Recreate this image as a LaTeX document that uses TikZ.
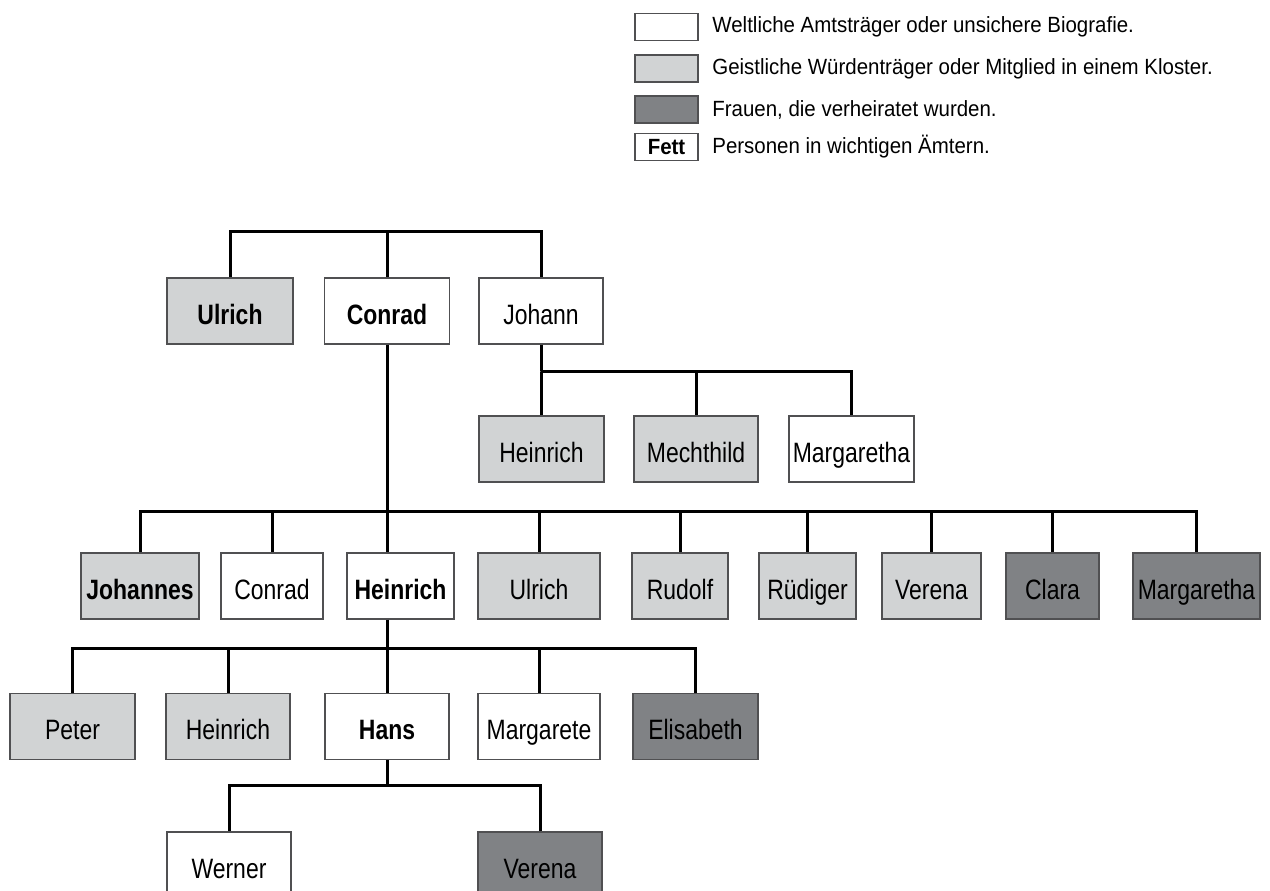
\documentclass[tikz,border=0pt]{standalone}
\usepackage{fontspec}
\setmainfont{Liberation Sans}[FakeStretch=0.82]
\newfontfamily\legendfont{Liberation Sans}[FakeStretch=0.93]
\definecolor{cleric}{RGB}{209,211,212}
\definecolor{wifegray}{RGB}{128,130,133}
\definecolor{boxline}{RGB}{80,80,82}
\begin{document}
\begin{tikzpicture}[x=0.5pt,y=-0.5pt,
  person/.style={draw=boxline, line width=0.7pt, fill=white, minimum height=33pt, inner sep=0pt,
    text height=13pt, text depth=0pt, font=\fontsize{14}{16}\selectfont},
  monk/.style={person, fill=cleric},
  wife/.style={person, fill=wifegray},
  vip/.style={font=\fontsize{14}{16}\selectfont\bfseries},
  key/.style={draw=boxline, line width=0.7pt, minimum width=31.5pt, minimum height=13.5pt, inner sep=0pt},
  keytext/.style={anchor=west, inner sep=0pt, font=\legendfont\fontsize{11}{13}\selectfont},
  line/.style={line width=1.5pt, line join=miter}]

\useasboundingbox (0,0) rectangle (1270,890);
\clip (0,0) rectangle (1270,890);

% legend
\node[key, fill=white]    (k1) at (666.5,27)  {};
\node[key, fill=cleric]   (k2) at (666.5,68.5) {};
\node[key, fill=wifegray] (k3) at (666.5,109.5) {};
\node[key, fill=white, font=\legendfont\fontsize{11}{13}\selectfont\bfseries] (k4) at (666.5,147) {Fett};
\node[keytext] (t1) at (712,27)  {Weltliche Amtsträger oder unsichere Biografie.};
\node[keytext] (t2) at (712,68.5) {Geistliche Würdenträger oder Mitglied in einem Kloster.};
\node[keytext] (t3) at (712,109.5) {Frauen, die verheiratet wurden.};
\node[keytext] (t4) at (712,147) {Personen in wichtigen Ämtern.};

% first generation
\node[monk, vip, minimum width=63pt]     (ulrich) at (230,311) {Ulrich};
\node[person, vip, minimum width=62.5pt] (conrad) at (387,311) {Conrad};
\node[person, minimum width=62pt]        (johann) at (541,311) {Johann};

% children of Johann
\node[monk, minimum width=62.5pt]   (heinrichJ)   at (541.5,449) {Heinrich};
\node[monk, minimum width=62pt]     (mechthild)   at (696,449)   {Mechthild};
\node[person, minimum width=62.5pt] (margarethaJ) at (851.5,449) {Margaretha};

% children of Conrad
\node[monk, vip, minimum width=59pt]     (johannes)    at (140,586)    {Johannes};
\node[person, minimum width=51pt]        (conradC)     at (272,586)    {Conrad};
\node[person, vip, minimum width=53.5pt] (heinrichC)   at (400.5,586)  {Heinrich};
\node[monk, minimum width=61pt]          (ulrichC)     at (539,586)    {Ulrich};
\node[monk, minimum width=48pt]          (rudolf)      at (680,586)    {Rudolf};
\node[monk, minimum width=48.5pt]        (ruediger)    at (807.5,586)  {Rüdiger};
\node[monk, minimum width=49.5pt]        (verena)      at (931.5,586)  {Verena};
\node[wife, minimum width=46.5pt]        (clara)       at (1052.5,586) {Clara};
\node[wife, minimum width=63.5pt]        (margarethaC) at (1196.5,586) {Margaretha};

% children of Heinrich
\node[monk, minimum width=62.5pt]      (peter)     at (72.5,726.5)  {Peter};
\node[monk, minimum width=62pt]        (heinrichH) at (228,726.5)   {Heinrich};
\node[person, vip, minimum width=62pt] (hans)      at (387,726.5)   {Hans};
\node[person, minimum width=61pt]      (margarete) at (539,726.5)   {Margarete};
\node[wife, minimum width=62.5pt]      (elisabeth) at (695.5,726.5) {Elisabeth};

% children of Hans
\node[person, minimum width=62pt] (werner)  at (229,865) {Werner};
\node[wife, minimum width=62pt]   (verenaH) at (540,865) {Verena};

% bars
\coordinate (b0) at (387,231);
\coordinate (b1) at (541,371);
\coordinate (b2) at (387,511);
\coordinate (b3) at (387,648);
\coordinate (b4) at (387,785);

\draw[line] (b0) -- (conrad);
\draw[line] (b0) -| (ulrich);
\draw[line] (b0) -| (johann);

\draw[line] (johann) -- (b1);
\foreach \c in {heinrichJ, mechthild, margarethaJ}
  \draw[line] (b1) -| (\c);

\draw[line] (conrad) -- (b2);
\draw[line] (b2) -- (b2 |- heinrichC.north);
\foreach \c in {johannes, conradC, ulrichC, rudolf, ruediger, verena, clara, margarethaC}
  \draw[line] (b2) -| (\c);

\draw[line] (b2 |- heinrichC.south) -- (b3);
\foreach \c in {peter, heinrichH, hans, margarete, elisabeth}
  \draw[line] (b3) -| (\c);

\draw[line] (hans) -- (b4);
\foreach \c in {werner, verenaH}
  \draw[line] (b4) -| (\c);

\end{tikzpicture}
\end{document}
